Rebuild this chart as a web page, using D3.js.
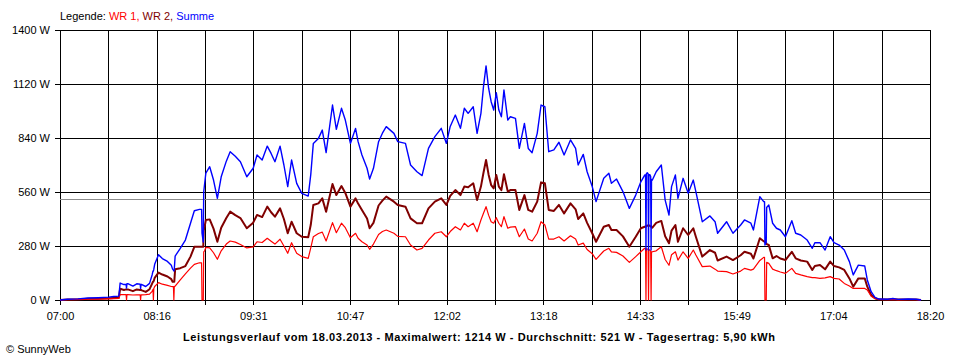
<!DOCTYPE html>
<html><head><meta charset="utf-8">
<script src="https://cdn.jsdelivr.net/npm/d3@7"></script>
<style>
body{margin:0;background:#fff}
svg{display:block}
text{font-family:"Liberation Sans",Arial,sans-serif;font-size:11px}
</style>
</head><body>
<svg id="c" width="960" height="360"></svg>
<script>
const times = ["07:00","07:06","07:14","07:22","07:30","07:38","07:42","07:46","07:47","07:50","07:51:40","07:52","07:52:20","07:53","07:57","08:00","08:02:40","08:03","08:03:20","08:04","08:07","08:10","08:12","08:12:40","08:13","08:13:20","08:14","08:17","08:20","08:24","08:27","08:28","08:28:40","08:29","08:29:20","08:30","08:34","08:38","08:42","08:45","08:49","08:50:40","08:51","08:52","08:52:20","08:53","08:54",
"08:57","09:00","09:03","09:06","09:10","09:13","09:17","09:21","09:26","09:31","09:34","09:38","09:42","09:45","09:48","09:52","09:55","09:58","10:01","10:05","10:09","10:14","10:16","10:18","10:22","10:25","10:28","10:33","10:36","10:40","10:43","10:47","10:51","10:53","10:56","11:00","11:02","11:05","11:09","11:12","11:15","11:21","11:24","11:30","11:34","11:39","11:43","11:48","11:53","11:58","12:02","12:05","12:09","12:13","12:16","12:19","12:23","12:26","12:29","12:31","12:33","12:35","12:37","12:39","12:41","12:43","12:45","12:47","12:50","12:52","12:56","12:59","13:03","13:06","13:09","13:13","13:16","13:19","13:22","13:26","13:30","13:34","13:39","13:43","13:45","13:49","13:52","13:56","13:59","14:05","14:09","14:11","14:15","14:20","14:25","14:30","14:34","14:37",
"14:37:40","14:38","14:38:20","14:39","14:39:40","14:40","14:40:20","14:41","14:41:40","14:42","14:42:20","14:43",
"14:46","14:50","14:53","14:56","14:58","15:01","15:03","15:07","15:11","15:15","15:17","15:22","15:28","15:32","15:34","15:41","15:46","15:52","15:55","16:00","16:02","16:07","16:10",
"16:10:40","16:11","16:12","16:12:20","16:14",
"16:17","16:20","16:23","16:27","16:32","16:35","16:39","16:44","16:48","16:50","16:54","16:58","17:02","17:05","17:09","17:13","17:17","17:20","17:24","17:29","17:31","17:34","17:37","17:40","17:47","17:51","17:55","18:03","18:09","18:13"];
const summe = [0,4,6,10,12,15,18,20,88,80,80,62,85,85,72,84,82,60,80,80,70,86,130,150,150,160,185,235,215,200,180,160,155,150,160,228,268,311,398,463,470,470,347,300,560,600,658,
691,622,527,639,720,769,745,717,639,683,752,726,798,760,717,798,700,588,726,605,553,539,650,812,838,881,764,1011,885,994,933,812,890,821,752,683,627,683,821,865,899,864,821,812,700,665,645,786,847,890,812,900,959,890,994,968,1002,864,968,1106,1214,1098,1028,985,1075,985,950,1089,933,950,942,786,916,786,764,864,1011,1002,769,778,818,752,830,786,700,755,665,588,510,631,657,605,627,562,475,544,613,648,
648,259,655,660,655,259,650,650,640,259,625,622,
665,700,518,441,588,648,527,631,553,622,562,406,436,406,346,406,346,389,415,398,363,536,510,
510,285,300,480,493,
398,372,363,328,411,346,337,311,268,297,297,259,328,297,285,259,199,130,181,176,104,43,14,5,4,8,3,5,4,0];
const wr1 = [0,2,3,4,5,6,7,8,28,28,28,0,28,28,26,27,27,0,27,27,28,30,45,55,0,60,70,90,82,76,70,69,69,0,70,72,104,135,165,185,193,193,0,0,250,255,273,
270,245,211,255,290,306,300,288,270,275,302,298,320,305,290,315,280,242,297,242,225,216,270,328,345,352,306,401,349,398,375,323,346,320,302,285,263,290,340,355,363,346,330,328,285,259,268,311,346,354,328,355,380,363,398,380,398,354,415,450,484,440,406,398,427,398,380,432,372,378,380,328,368,316,306,346,406,389,316,316,328,306,333,316,285,295,262,240,211,254,268,250,247,228,195,225,250,268,
268,0,265,265,262,0,260,260,255,0,250,250,
255,276,210,180,235,250,207,250,216,259,233,173,176,160,150,147,135,150,164,155,160,205,221,
221,0,0,195,190,
160,152,145,138,164,138,130,121,116,116,112,115,121,112,109,86,73,60,60,60,52,20,8,3,2,3,1,2,2,0];
const wr2 = [0,2,3,6,7,9,11,12,58,52,55,55,55,55,46,55,52,52,52,50,42,56,85,95,95,100,115,142,132,122,108,95,95,95,95,160,165,176,225,276,276,276,276,276,360,380,415,
418,370,302,375,425,458,440,425,372,401,441,430,484,455,432,475,420,346,406,346,328,325,390,493,501,527,458,601,544,591,555,484,527,500,467,423,372,400,490,515,536,510,493,484,423,398,398,475,510,527,493,540,570,544,588,585,605,518,588,660,726,650,596,579,648,588,570,652,562,570,570,467,544,467,458,510,610,605,467,462,493,449,501,470,420,449,400,346,302,380,389,363,363,330,276,328,372,380,
380,380,385,385,387,389,387,385,382,380,378,375,
400,410,330,294,360,389,302,372,337,372,328,225,259,245,205,225,207,232,250,240,215,320,305,
302,300,295,290,285,
216,228,215,207,250,216,205,199,156,176,181,159,199,176,169,156,112,69,112,112,69,26,9,3,2,4,2,3,2,0];
const yTicks = [0,280,560,840,1120,1400];
const xTickLabels = ["07:00","08:16","09:31","10:47","12:02","13:18","14:33","15:49","17:04","18:20"];
const average = 521;
const seriesNames = ["WR 1","WR 2","Summe"];
const legendPrefix = "Legende: ";
const title = "Leistungsverlauf vom 18.03.2013 - Maximalwert: 1214 W - Durchschnitt: 521 W - Tagesertrag: 5,90 kWh";
const credit = "\u00A9 SunnyWeb";

const parseS = d3.timeParse("%Y-%m-%d %H:%M:%S");
const parseM = d3.timeParse("%Y-%m-%d %H:%M");
const day = "2013-03-18 ";
const T = s => parseS(day + s) || parseM(day + s);

const L = 60, R = 930, TOP = 30, BOT = 300;
const svg = d3.select("#c");
const x = d3.scaleTime().domain([T(xTickLabels[0]), T(xTickLabels[xTickLabels.length-1])]).range([L, R]);
const y = d3.scaleLinear().domain([0, 1400]).range([BOT, TOP]);
const colors = ["#ff0000", "#800000", "#0000ff"];
const FONT = '"Liberation Sans",Arial,sans-serif';

// vertical grid + x ticks
const t0 = x.domain()[0].getTime(), t1 = x.domain()[1].getTime();
const gridTimes = d3.range(19).map(i => new Date(t0 + i * (t1 - t0) / 18));
const xAxis = d3.axisBottom(x).tickValues(gridTimes).tickSizeInner(-(BOT + 5 - TOP)).tickSizeOuter(0).tickPadding(7)
  .tickFormat((d, i) => i % 2 === 0 ? xTickLabels[i / 2] : "");
const gx = svg.append("g").attr("transform", `translate(0,${BOT + 5})`).call(xAxis);
gx.select(".domain").remove();
gx.selectAll("line").attr("stroke", "#000").attr("shape-rendering", "crispEdges");
gx.selectAll("text").attr("fill", "#000").style("font-size", "11px").style("font-family", FONT);

// horizontal grid + y ticks
const yAxis = d3.axisLeft(y).tickValues(yTicks).tickSizeInner(-(R - (L - 5))).tickSizeOuter(0).tickPadding(5)
  .tickFormat(d => d + " W");
const gy = svg.append("g").attr("transform", `translate(${L - 5},0)`).call(yAxis);
gy.select(".domain").remove();
gy.selectAll("line").attr("stroke", "#000").attr("shape-rendering", "crispEdges");
gy.selectAll("text").attr("fill", "#000").style("font-size", "11px").style("font-family", FONT);

// average line
svg.append("line").attr("x1", L).attr("x2", R).attr("y1", y(average)).attr("y2", y(average))
  .attr("stroke", "#8c8c8c").attr("stroke-width", 1).attr("shape-rendering", "crispEdges");

// series
const series = [wr2, wr1, summe];
const seriesColor = ["#800000", "#ff0000", "#0000ff"];
const seriesWidth = [2, 1.2, 1.4];
const line = d3.line().x(d => x(d[0])).y(d => y(d[1]));
series.forEach((vals, k) => {
  const n = Math.min(times.length, vals.length);
  const pts = times.slice(0, n).map((t, i) => [T(t), vals[i]]);
  svg.append("path").datum(pts).attr("d", line).attr("fill", "none")
    .attr("stroke", seriesColor[k]).attr("stroke-width", seriesWidth[k]).attr("stroke-linejoin", "round");
});

// legend
const lg = svg.append("text").attr("x", 60).attr("y", 20).attr("fill", "#000");
lg.append("tspan").text(legendPrefix);
seriesNames.forEach((n, i) => {
  lg.append("tspan").attr("fill", colors[i]).text(n + (i < seriesNames.length - 1 ? ", " : ""));
});

// title
svg.append("text").attr("x", 479).attr("y", 341).attr("text-anchor", "middle")
  .attr("textLength", 592).attr("lengthAdjust", "spacing")
  .style("font-weight", "bold").attr("fill", "#000").text(title);

// credit
svg.append("text").attr("x", 6).attr("y", 353).attr("fill", "#000").text(credit);
</script>
</body></html>
